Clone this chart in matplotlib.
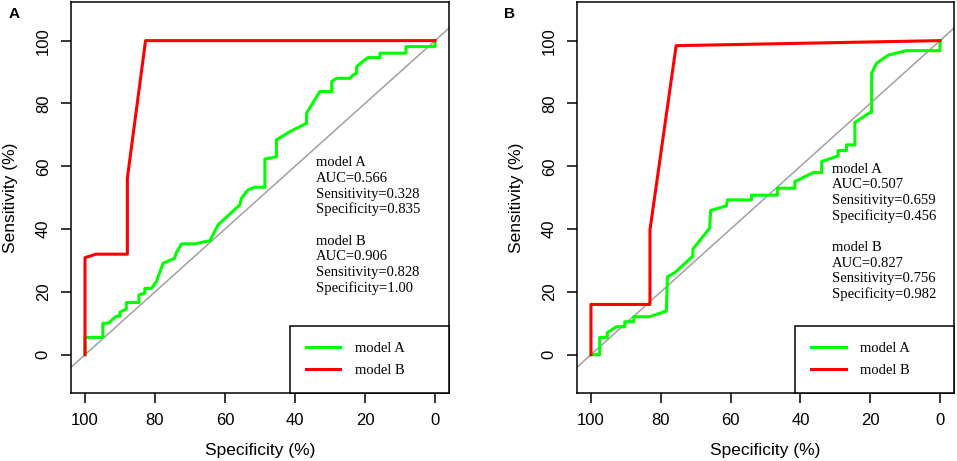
import matplotlib
matplotlib.use("Agg")
import matplotlib.pyplot as plt

# panel A (spec %, sens %)
a_modelA_spec = [100, 100, 94.9, 94.9, 93.4, 91.0, 90.0, 90.0, 88.2, 88.2, 84.6, 84.6, 82.9, 82.9,
                 81.0, 79.6, 77.7, 74.4, 73.9, 72.4, 68.6, 64.3, 62.0, 55.8, 55.3, 53.4, 51.5, 48.6,
                 48.6, 45.3, 45.3, 41.5, 36.7, 36.7, 32.9, 29.5, 29.5, 28.1, 24.3, 23.4, 22.4, 22.4,
                 20.5, 19.1, 15.7, 15.7, 8.3, 8.3, 0, 0]
a_modelA_sens = [0, 5.5, 5.5, 10.0, 10.0, 12.3, 12.3, 13.6, 14.5, 16.6, 16.6, 19.0, 19.6, 21.1,
                 21.1, 23.3, 29.1, 30.7, 32.5, 35.3, 35.3, 36.3, 41.3, 47.7, 49.8, 52.5, 53.3, 53.3,
                 62.3, 63.0, 68.4, 71.0, 73.7, 76.9, 83.8, 83.8, 87.0, 88.0, 88.0, 89.1, 89.6, 91.7,
                 93.5, 94.6, 94.6, 96.0, 96.0, 98.1, 98.1, 100]
a_modelB_spec = [100, 100, 96.9, 87.9, 87.9, 82.7, 0]
a_modelB_sens = [0, 30.9, 32, 32, 56.2, 100, 100]
a_notes = ["model A", "AUC=0.566", "Sensitivity=0.328", "Specificity=0.835",
           "model B", "AUC=0.906", "Sensitivity=0.828", "Specificity=1.00"]

# panel B
b_modelA_spec = [100, 97.5, 97.5, 95.3, 95.3, 92.7, 90.3, 90.3, 87.7, 87.7, 83.2, 78.4, 78.1, 76.0,
                 70.8, 70.8, 66.0, 65.7, 61.2, 60.9, 54.0, 54.0, 46.6, 46.6, 41.6, 41.6, 36.3, 33.9,
                 33.9, 29.2, 29.2, 26.8, 26.8, 24.4, 24.4, 20.1, 19.6, 19.6, 18.2, 14.8, 9.6, 0, 0]
b_modelA_sens = [0, 0, 5.5, 5.5, 7.0, 8.9, 8.9, 10.5, 10.5, 12.1, 12.1, 13.9, 24.8, 26.1,
                 31.4, 33.6, 40.3, 45.9, 47.4, 49.3, 49.3, 50.8, 50.8, 53.0, 53.0, 55.1, 58.0, 58.0,
                 61.5, 63.3, 65.0, 65.0, 66.8, 66.8, 73.9, 77.1, 77.1, 89.6, 92.8, 95.4, 96.8, 96.8, 100]
b_modelB_spec = [100, 100, 83.1, 83.1, 75.6, 0]
b_modelB_sens = [0, 16, 16, 39.7, 98.4, 100]
b_notes = ["model A", "AUC=0.507", "Sensitivity=0.659", "Specificity=0.456",
           "model B", "AUC=0.827", "Sensitivity=0.756", "Specificity=0.982"]

ticks = [100, 80, 60, 40, 20, 0]
GREEN, RED, GREY = "#00ff00", "#ff0000", "#a0a0a0"

plt.rcParams["font.family"] = ["Liberation Sans", "DejaVu Sans"]
SERIF = ["Liberation Serif", "DejaVu Serif"]

fig = plt.figure(figsize=(9.57, 4.61), dpi=100)


def panel(rect, tag, tagx, sa, sea, sb, seb, notes, note_x, note_y):
    ax = fig.add_axes(rect)
    ax.axline((100, 0), (0, 100), color=GREY, lw=1.1, zorder=1)
    ax.plot(sa, sea, color=GREEN, lw=2.2, label="model A", zorder=3)
    ax.plot(sb, seb, color=RED, lw=2.2, label="model B", zorder=3)
    ax.set_xlim(104, -4)
    ax.set_ylim(-12.2, 112.3)
    ax.set_xticks(ticks)
    ax.set_yticks(ticks[::-1])
    ax.tick_params(length=7.5, width=1.1, pad=7, labelsize=12)
    ax.tick_params(axis="y", labelrotation=90)
    for lab in ax.get_yticklabels():
        lab.set_va("center")
    for s in ax.spines.values():
        s.set_linewidth(1.1)
    ax.set_xlabel("Specificity (%)", fontsize=12.5, labelpad=10.5)
    ax.set_ylabel("Sensitivity (%)", fontsize=12.5, labelpad=12.5)
    for t, y in zip(notes, note_y):
        ax.text(note_x, y, t, family=SERIF, fontsize=10.5, ha="left", va="baseline")
    leg = ax.legend(loc="lower left", bbox_to_anchor=(0.579, 0, 0.421, 0.17), mode="expand",
                    borderaxespad=0, borderpad=1.1, handlelength=2.35, handletextpad=1.0,
                    labelspacing=0.6, fancybox=False, prop={"family": SERIF, "size": 10.5})
    leg.get_frame().set_edgecolor("black")
    leg.get_frame().set_linewidth(1.1)
    leg.get_frame().set_alpha(1)
    fig.text(tagx, 1 - 18 / 461, tag, fontsize=11, fontweight="bold", va="baseline")
    return ax


panel([71 / 957, 68 / 461, 378 / 957, 391 / 461], "A", 9 / 957,
      a_modelA_spec, a_modelA_sens, a_modelB_spec, a_modelB_sens,
      a_notes, 34, [60, 55, 50, 45, 35, 30, 25, 20])
panel([577 / 957, 68 / 461, 377 / 957, 391 / 461], "B", 504 / 957,
      b_modelA_spec, b_modelA_sens, b_modelB_spec, b_modelB_sens,
      b_notes, 31, [58, 53, 48, 43, 33, 28, 23, 18])

fig.savefig("out.png", dpi=100)
